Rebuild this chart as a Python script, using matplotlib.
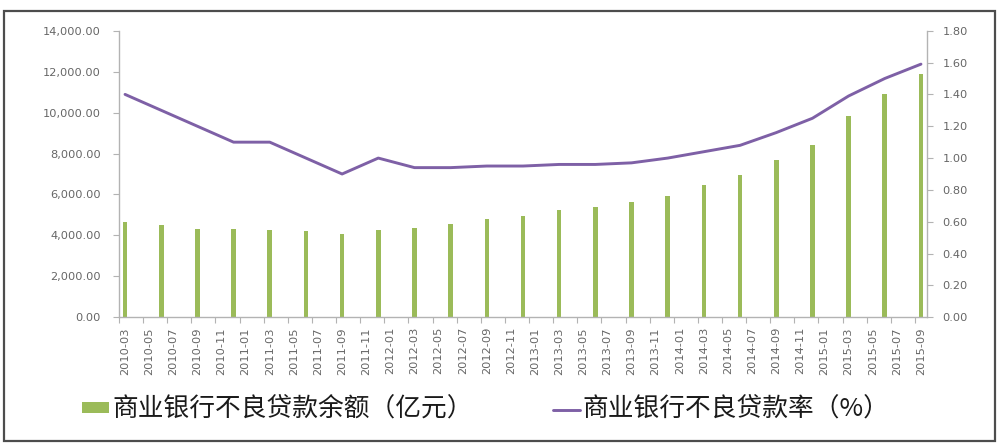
import matplotlib
matplotlib.use("Agg")
import matplotlib.pyplot as plt
from matplotlib.patches import Rectangle
from matplotlib.ticker import FuncFormatter, FixedLocator, NullFormatter

# ---- data ----
month_labels = [f"{y}-{m:02d}" for y in range(2010, 2016) for m in range(1, 13)]
month_labels = month_labels[month_labels.index("2010-03"):month_labels.index("2015-09") + 1]
quarters = ["2010-03", "2010-06", "2010-09", "2010-12",
            "2011-03", "2011-06", "2011-09", "2011-12",
            "2012-03", "2012-06", "2012-09", "2012-12",
            "2013-03", "2013-06", "2013-09", "2013-12",
            "2014-03", "2014-06", "2014-09", "2014-12",
            "2015-03", "2015-06", "2015-09"]
npl_balance = [4665, 4525, 4336, 4293,
               4267, 4200, 4078, 4279,
               4382, 4564, 4788, 4929,
               5265, 5395, 5636, 5921,
               6461, 6944, 7669, 8426,
               9825, 10919, 11863]
npl_ratio = [1.40, 1.30, 1.20, 1.10,
             1.10, 1.00, 0.90, 1.00,
             0.94, 0.94, 0.95, 0.95,
             0.96, 0.96, 0.97, 1.00,
             1.04, 1.08, 1.16, 1.25,
             1.39, 1.50, 1.59]
label_bar = "商业银行不良贷款余额（亿元）"
label_line = "商业银行不良贷款率（%）"

GREEN = "#9BBB59"
PURPLE = "#7E60A6"
AXIS = "#B3B3B3"
TXT = "#666666"

x_q = [month_labels.index(q) for q in quarters]
label_idx = list(range(0, len(month_labels), 2))

fig = plt.figure(figsize=(10, 4.47), dpi=100)
fig.patch.set_facecolor("white")

ax = fig.add_axes([0.119, 0.2902, 0.808, 0.6411])
ax2 = ax.twinx()

bars = ax.bar(x_q, npl_balance, width=0.38, color=GREEN, zorder=2, label=label_bar)
line, = ax2.plot(x_q, npl_ratio, color=PURPLE, lw=2.1, solid_joinstyle="round",
                 solid_capstyle="round", label=label_line, zorder=3)

ax.set_xlim(-0.5, len(month_labels) - 0.5)
ax.set_ylim(0, 14000)
ax2.set_ylim(0, 1.8)
ax.set_yticks(range(0, 14001, 2000))
ax2.set_yticks([i * 0.2 for i in range(10)])
ax.yaxis.set_major_formatter(FuncFormatter(lambda v, p: f"{v:,.2f}"))
ax2.yaxis.set_major_formatter(FuncFormatter(lambda v, p: f"{v:.2f}"))

# x: labels at month centres (minor), tick marks at boundaries (major)
ax.xaxis.set_major_locator(FixedLocator([i - 0.5 for i in label_idx]))
ax.xaxis.set_major_formatter(NullFormatter())
ax.xaxis.set_minor_locator(FixedLocator(label_idx))
ax.set_xticklabels([month_labels[i] for i in label_idx], minor=True, rotation=90)
ax.tick_params(axis="x", which="major", length=4, width=0.8, color=AXIS, direction="out")
ax.tick_params(axis="x", which="minor", length=0, pad=7, labelsize=8.2, labelcolor=TXT)

ax.tick_params(axis="y", length=4, width=0.8, color=AXIS, pad=9, labelsize=8.2, labelcolor=TXT)
ax2.tick_params(axis="y", length=4, width=0.8, color=AXIS, pad=7, labelsize=8.2, labelcolor=TXT)

for a in (ax, ax2):
    a.spines["top"].set_visible(False)
    for s in ("left", "right", "bottom"):
        a.spines[s].set_color(AXIS)
        a.spines[s].set_linewidth(1.0)
ax.spines["right"].set_visible(False)
ax2.spines["left"].set_visible(False)
ax2.spines["bottom"].set_visible(False)

for t in ax.get_xticklabels(minor=True) + ax.get_yticklabels() + ax2.get_yticklabels():
    t.set_family("DejaVu Sans")

leg = fig.legend([bars, line], [label_bar, label_line], ncol=2, frameon=False,
                 loc="center", bbox_to_anchor=(0.486, 0.083),
                 prop={"family": ["Noto Sans CJK SC", "DejaVu Sans"], "size": 18.5},
                 handlelength=1.05, handleheight=0.28, handletextpad=0.12,
                 columnspacing=3.1, borderpad=0)
for t in leg.get_texts():
    t.set_color("#1A1A1A")

# outer frame
fig.patches.append(Rectangle((0.0035, 6 / 447), 0.9915, 430 / 447, transform=fig.transFigure,
                             fill=False, edgecolor="#4D4D4D", linewidth=1.6))

fig.savefig("out.png", dpi=100, facecolor="white")
